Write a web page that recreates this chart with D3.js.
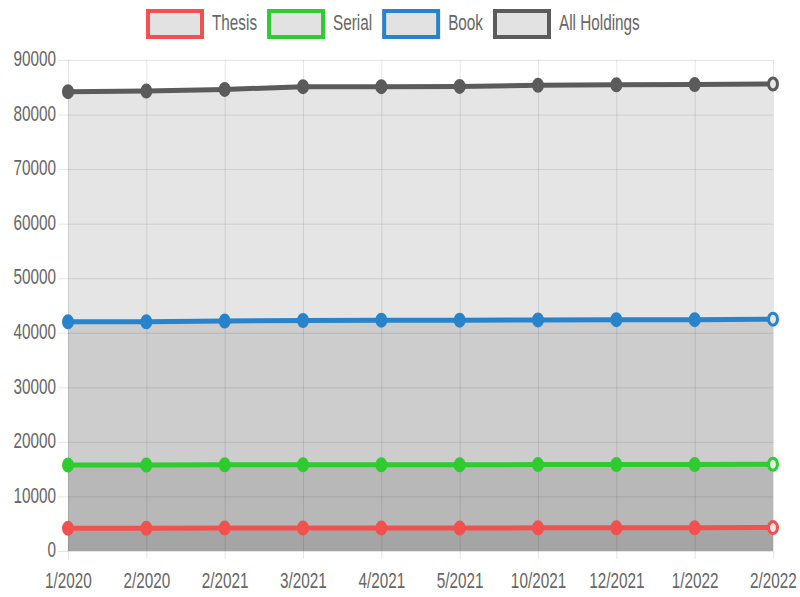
<!DOCTYPE html>
<html><head><meta charset="utf-8">
<script src="https://cdn.jsdelivr.net/npm/d3@7"></script>
<style>body{margin:0;background:#fff}svg{display:block}</style>
</head><body>
<svg id="c" width="800" height="597"></svg>
<script>
const categories = ["1/2020","2/2020","2/2021","3/2021","4/2021","5/2021","10/2021","12/2021","1/2022","2/2022"];
const seriesNames = ["Thesis","Serial","Book","All Holdings"];
const seriesColors = ["#f2514f","#2ecc2e","#2784cc","#5b5b5b"];
const thesis = [4150,4150,4200,4200,4200,4200,4250,4250,4250,4300];
const serial = [15750,15750,15800,15800,15800,15800,15850,15850,15850,15900];
const book = [42000,42000,42150,42250,42300,42300,42350,42400,42400,42500];
const allHoldings = [84200,84300,84600,85100,85100,85150,85350,85450,85500,85600];
const yTicks = [0,10000,20000,30000,40000,50000,60000,70000,80000,90000];
const seriesValues = [thesis, serial, book, allHoldings];

const svg = d3.select("#c");
const font = "'Liberation Sans',Arial,sans-serif";
const txtScale = "scale(0.85,1.2)";
const pLeft = 68, pRight = 773, pTop = 60, pBottom = 551;
const x = d3.scalePoint().domain(categories).range([pLeft, pRight]);
const y = d3.scaleLinear().domain([0, 90000]).range([pBottom, pTop]);
const grid = "rgba(0,0,0,0.1)";

// area fills
const area = d3.area().x((d,i)=>x(categories[i])).y0(y(0)).y1(d=>y(d));
[3,2,1,0].forEach(k=>{
  svg.append("path").attr("d", area(seriesValues[k])).attr("fill","rgba(0,0,0,0.1)");
});

// y grid + ticks
const yAxis = d3.axisLeft(y).tickValues(yTicks).tickSize(10).tickFormat(d3.format("d"));
const gy = svg.append("g").attr("transform",`translate(${pLeft},0)`).call(yAxis);
gy.select(".domain").remove();
gy.selectAll(".tick line").attr("stroke",grid).clone().attr("x2", pRight-pLeft);
gy.selectAll(".tick text").attr("x",0).attr("dy",null).attr("dominant-baseline","middle")
  .attr("fill","#666").style("font-family",font).style("font-size","18px")
  .attr("transform",`translate(-12,0) ${txtScale}`);

// x grid + ticks
const xAxis = d3.axisBottom(x).tickSize(8);
const gx = svg.append("g").attr("transform",`translate(0,${pBottom})`).call(xAxis);
gx.select(".domain").remove();
gx.selectAll(".tick line").attr("stroke",grid).clone().attr("y2", -(pBottom-pTop));
gx.selectAll(".tick text").attr("y",0).attr("dy",null)
  .attr("fill","#666").style("font-family",font).style("font-size","18px")
  .attr("transform",`translate(0,37) ${txtScale}`);

// lines and points
const line = d3.line().x((d,i)=>x(categories[i])).y(d=>y(d));
seriesValues.forEach((vals,k)=>{
  svg.append("path").attr("d", line(vals)).attr("fill","none")
    .attr("stroke", seriesColors[k]).attr("stroke-width",5);
  svg.append("g").selectAll("ellipse").data(vals).join("ellipse")
    .attr("cx",(d,i)=>x(categories[i])).attr("cy",d=>y(d))
    .attr("rx",4.5).attr("ry",6)
    .attr("fill",(d,i)=> i===vals.length-1 ? "#e6e6e6" : seriesColors[k])
    .attr("stroke",seriesColors[k]).attr("stroke-width",3);
});

// legend
const lg = svg.append("g");
const boxW = 54, boxH = 26;
let lx = 148;
seriesNames.forEach((n,k)=>{
  lg.append("rect").attr("x",lx).attr("y",11).attr("width",boxW).attr("height",boxH)
    .attr("fill","#e2e2e2").attr("stroke",seriesColors[k]).attr("stroke-width",4);
  const t = lg.append("text").attr("transform",`translate(${lx+boxW+10},24) ${txtScale}`)
    .attr("dominant-baseline","middle").attr("fill","#666")
    .style("font-family",font).style("font-size","18px").text(n);
  lx += boxW + 10 + t.node().getComputedTextLength()*0.85 + 12;
});
</script>
</body></html>
